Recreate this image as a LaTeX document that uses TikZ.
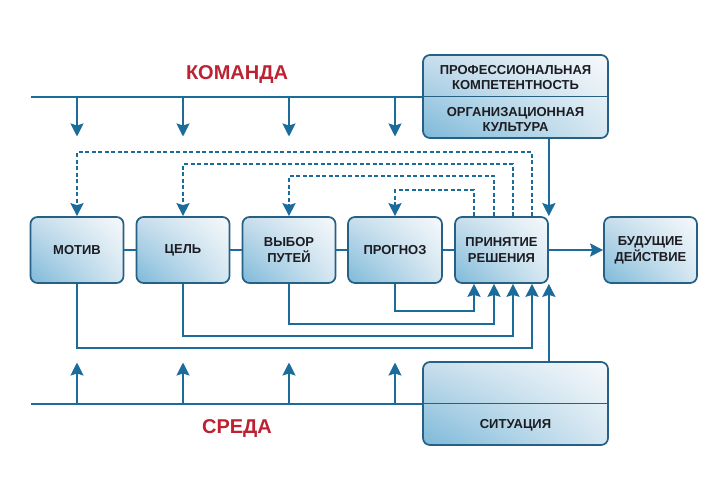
\documentclass[tikz,border=0pt]{standalone}
\usepackage{fontspec}
\setmainfont{Liberation Sans}
\usetikzlibrary{arrows.meta,shadings}
\definecolor{lineblue}{RGB}{28,108,155}
\definecolor{framec}{RGB}{38,96,132}
\definecolor{redt}{RGB}{188,34,50}
\definecolor{textc}{RGB}{28,28,34}
\definecolor{shLL}{RGB}{125,185,217}
\definecolor{shUL}{RGB}{200,222,236}
\definecolor{shUR}{RGB}{246,249,251}
\definecolor{shLR}{RGB}{214,231,241}
\begin{document}
\begin{tikzpicture}[x=1pt,y=-1pt,
  box/.style={draw=framec, line width=1.7pt, rounded corners=7pt,
    lower left=shLL, upper left=shUL, upper right=shUR, lower right=shLR,
    minimum width=93pt, minimum height=66pt, inner sep=0pt, align=center,
    font=\bfseries\fontsize{13}{16}\selectfont, text=textc},
  lbl/.style={align=center, inner sep=0pt, font=\bfseries\fontsize{13}{15}\selectfont, text=textc},
  title/.style={inner sep=0pt, font=\bfseries\fontsize{20}{22}\selectfont, text=redt},
  ln/.style={draw=lineblue, line width=2pt},
  dl/.style={draw=lineblue, line width=2pt, dash pattern=on 4pt off 2.5pt},
  arr/.style={-{Stealth[length=13pt,width=13pt,inset=2pt]}}
]
\fill[white] (0,0) rectangle (727,493);
\useasboundingbox (0,0) rectangle (727,493);

% main boxes
\node[box] (mot) at (77,250) {МОТИВ};
\node[box] (cel) at (183,250) {ЦЕЛЬ};
\node[box] (vyb) at (289,250) {ВЫБОР\\ПУТЕЙ};
\node[box, minimum width=94pt] (pro) at (395,250) {ПРОГНОЗ};
\node[box] (dec) at (501.5,250) {ПРИНЯТИЕ\\РЕШЕНИЯ};
\node[box] (fut) at (650.5,250) {БУДУЩИЕ\\ДЕЙСТВИЕ};

% top box
\node[box, minimum width=185pt, minimum height=83pt] (pk) at (515.5,96.5) {};
\draw[draw=framec, line width=1.7pt] (pk.west) -- (pk.east);
\node[lbl] (pk1) at (515.5,77.5) {ПРОФЕССИОНАЛЬНАЯ\\КОМПЕТЕНТНОСТЬ};
\node[lbl] (pk2) at (515.5,119.5) {ОРГАНИЗАЦИОННАЯ\\КУЛЬТУРА};

% situation box
\node[box, minimum width=185pt, minimum height=83pt] (sit) at (515.5,403.5) {};
\draw[draw=framec, line width=1.7pt] (sit.west) -- (sit.east);
\node[lbl] (sit1) at (515.5,425) {СИТУАЦИЯ};

% titles
\node[title] (kom) at (237,74.5) {КОМАНДА};
\node[title] (sre) at (237,429) {СРЕДА};

% top line and arrows
\coordinate (tl) at (31,96.5);
\draw[ln] (tl) -- (pk.west);
\foreach \n in {mot,cel,vyb,pro}
  \draw[ln,arr] (tl -| \n.north) -- ++(0,40);

% bottom line and arrows
\coordinate (bl) at (31,403.5);
\draw[ln] (bl) -- (sit.west);
\foreach \n in {mot,cel,vyb,pro}
  \draw[ln,arr] (bl -| \n.south) -- ++(0,-41);

% chain
\draw[ln] (mot.east) -- (cel.west);
\draw[ln] (cel.east) -- (vyb.west);
\draw[ln] (vyb.east) -- (pro.west);
\draw[ln] (pro.east) -- (dec.west);
\draw[ln,arr] (dec.east) -- (fut.west);

% inputs to decision
\draw[ln,arr] (pk.south -| dec.north east) -- (dec.north east);
\draw[ln,arr] (sit.north -| dec.south east) -- (dec.south east);

% dashed feedback
\draw[dl,arr] ([xshift=30.5pt]dec.north) -- ++(0,-64) -| (mot.north);
\draw[dl,arr] ([xshift=11.5pt]dec.north) -- ++(0,-52) -| (cel.north);
\draw[dl,arr] ([xshift=-7.5pt]dec.north) -- ++(0,-40) -| (vyb.north);
\draw[dl,arr] ([xshift=-27.5pt]dec.north) -- ++(0,-26) -| (pro.north);

% solid returns
\draw[ln,arr] (pro.south) -- ++(0,27) -| ([xshift=-27.5pt]dec.south);
\draw[ln,arr] (vyb.south) -- ++(0,40) -| ([xshift=-7.5pt]dec.south);
\draw[ln,arr] (cel.south) -- ++(0,52) -| ([xshift=11.5pt]dec.south);
\draw[ln,arr] (mot.south) -- ++(0,64) -| ([xshift=30.5pt]dec.south);
\end{tikzpicture}
\end{document}
